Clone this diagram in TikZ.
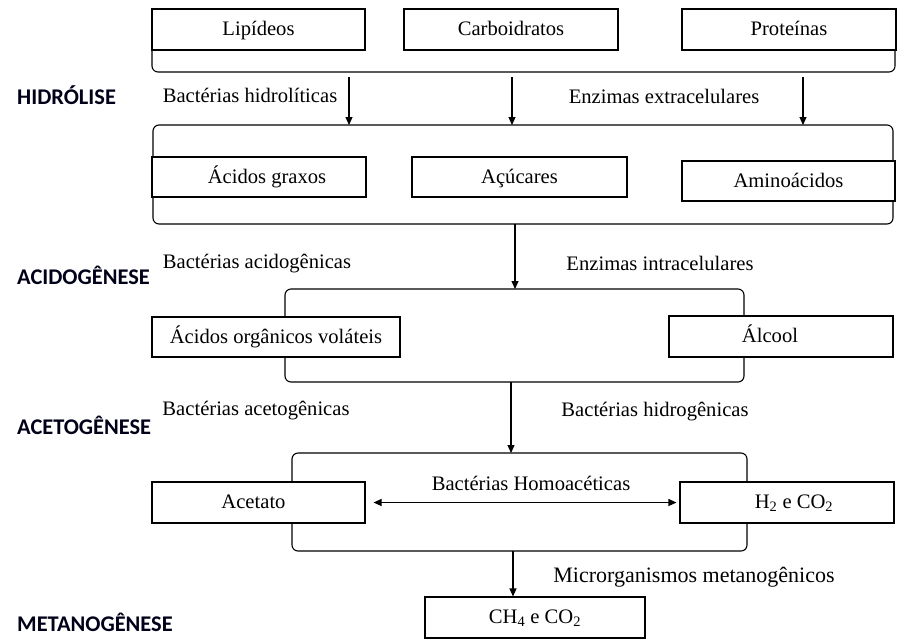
\documentclass[tikz,border=0pt]{standalone}
\usepackage{fontspec}
\setmainfont{Liberation Serif}
\newfontfamily\lblfont{Carlito}
\usetikzlibrary{arrows.meta}
\tikzset{
  x=1pt, y=-1pt,
  stagebox/.style={draw, fill=white, line width=1.1pt, inner sep=0pt, text height=16pt, text depth=4pt, font=\fontsize{20.6}{24}\selectfont},
  brk/.style={draw, line width=1.1pt, rounded corners=6pt},
  flow/.style={draw, line width=1.1pt, -{Triangle[length=8pt,width=7pt]}},
  dflow/.style={draw, line width=1.1pt, {Triangle[length=8pt,width=7pt]}-{Triangle[length=8pt,width=7pt]}},
  note/.style={font=\fontsize{20.6}{24}\selectfont, inner sep=0pt, text height=15pt, text depth=4pt},
  phase/.style={font=\lblfont\bfseries\fontsize{22.4}{26}\selectfont, inner sep=0pt, anchor=west, text=black!90!blue},
}
\newcommand{\stgbox}[6]{\node[stagebox, minimum width=#4-#2, minimum height=#5-#3] (#1) at ({(#2+#4)/2},{(#3+#5)/2}) {#6};}
\begin{document}
\begin{tikzpicture}
\useasboundingbox (0,0) rectangle (907,641);
% brackets
\path[brk] (152,50) -- (152,72) -- (895,72) -- (895,50);
\path[brk] (153,125) rectangle (893,224);
\path[brk] (285,289) rectangle (744,382);
\path[brk] (292,453) rectangle (747,551);
% boxes
\stgbox{lip}{152}{9}{365}{50}{Lipídeos}
\stgbox{carb}{404}{9}{618}{50}{Carboidratos}
\stgbox{prot}{682}{9}{896}{50}{Proteínas}
\stgbox{acg}{152}{157}{366}{197}{\hspace*{16pt}Ácidos graxos}
\stgbox{acu}{412}{157}{627}{197}{Açúcares}
\stgbox{amin}{682}{161}{895}{201}{Aminoácidos}
\stgbox{aov}{152}{317}{400}{357}{Ácidos orgânicos voláteis}
\stgbox{alc}{669}{316}{893}{357}{Álcool\hspace*{22pt}}
\stgbox{acet}{152}{482}{365}{523}{Acetato\hspace*{10pt}}
\stgbox{hco}{680}{482}{894}{523}{\hspace*{14pt}H\textsubscript{2} e CO\textsubscript{2}}
\stgbox{ch4}{425}{597}{645}{638}{CH\textsubscript{4} e CO\textsubscript{2}}
% arrow coordinates
\coordinate (h1s) at (349,77); \coordinate (h1e) at (349,125);
\coordinate (h2s) at (512,77); \coordinate (h2e) at (512,125);
\coordinate (h3s) at (803,77); \coordinate (h3e) at (803,125);
\coordinate (a1s) at (515,224); \coordinate (a1e) at (515,289);
\coordinate (a2s) at (511,382); \coordinate (a2e) at (511,453);
\coordinate (m1s) at (513,551);
\draw[flow] (h1s) -- (h1e);
\draw[flow] (h2s) -- (h2e);
\draw[flow] (h3s) -- (h3e);
\draw[flow] (a1s) -- (a1e);
\draw[flow] (a2s) -- (a2e);
\draw[flow] (m1s) -- (m1s |- ch4.north);
\draw[dflow] ([xshift=8pt]acet.east) -- ([xshift=-3pt]hco.west);
% notes
\node[note] (n1) at (250,97) {Bactérias hidrolíticas};
\node[note] (n2) at (664,98) {Enzimas extracelulares};
\node[note] (n3) at (257,263) {Bactérias acidogênicas};
\node[note] (n4) at (660,265) {Enzimas intracelulares};
\node[note] (n5) at (256,410) {Bactérias acetogênicas};
\node[note] (n6) at (655,411) {Bactérias hidrogênicas};
\node[note] (n7) at (531,485) {Bactérias Homoacéticas};
\node[note, font=\fontsize{22}{26}\selectfont] (n8) at (694,577) {Microrganismos metanogênicos};
% phases
\node[phase] (p1) at (17,95) {HIDRÓLISE};
\node[phase] (p2) at (17,275) {ACIDOGÊNESE};
\node[phase] (p3) at (17,425) {ACETOGÊNESE};
\node[phase] (p4) at (17,622) {METANOGÊNESE};
\end{tikzpicture}
\end{document}
